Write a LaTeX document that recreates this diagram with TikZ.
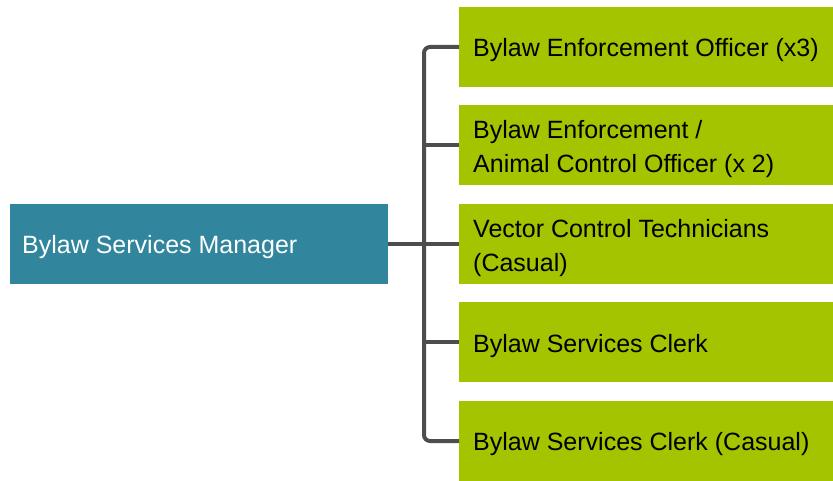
\documentclass[tikz,border=0pt]{standalone}
\usepackage{fontspec}
\setmainfont{Liberation Sans}
\definecolor{mgrteal}{HTML}{31859C}
\definecolor{staffgreen}{HTML}{A4C400}
\definecolor{linkgray}{HTML}{4D4D4D}
\begin{document}
\begin{tikzpicture}[x=1bp,y=-1bp,
  box/.style={rectangle, inner sep=0bp, minimum height=80bp, anchor=west},
  mgrbox/.style={box, fill=mgrteal, minimum width=378bp},
  staffbox/.style={box, fill=staffgreen, minimum width=374bp},
  boxtext/.style={anchor=west, align=left, inner sep=0bp,
    font=\fontsize{25bp}{34bp}\selectfont},
  conn/.style={draw=linkgray, line width=4bp, rounded corners=6bp}]
\useasboundingbox (0,0) rectangle (833,481);

% manager box and its label
\node[mgrbox] (mgr) at (10,244) {};
\node[boxtext, text=white] (mgrlabel) at (22,247) {Bylaw Services Manager};

% staff boxes
\foreach \n/\y in {b1/47, b2/145, b3/244, b4/342, b5/441}{
  \node[staffbox] (\n) at (459,\y) {};
}
\node[boxtext] (t1) at (473,50) {Bylaw Enforcement Officer (x3)};
\node[boxtext] (t2) at (473,149) {Bylaw Enforcement /\\Animal Control Officer (x 2)};
\node[boxtext] (t3) at (473,248) {Vector Control Technicians\\(Casual)};
\node[boxtext] (t4) at (473,346) {Bylaw Services Clerk};
\node[boxtext] (t5) at (473,444) {Bylaw Services Clerk (Casual)};

% connector tree
\coordinate (jx) at (424,244);
\draw[conn] (b1.west) -- (b1.west -| jx) -- (b5.west -| jx) -- (b5.west);
\draw[conn] (b2.west) -- (b2.west -| jx);
\draw[conn] (b3.west) -- (b3.west -| jx);
\draw[conn] (b4.west) -- (b4.west -| jx);
\draw[conn] (mgr.east) -- (jx);
\end{tikzpicture}
\end{document}
